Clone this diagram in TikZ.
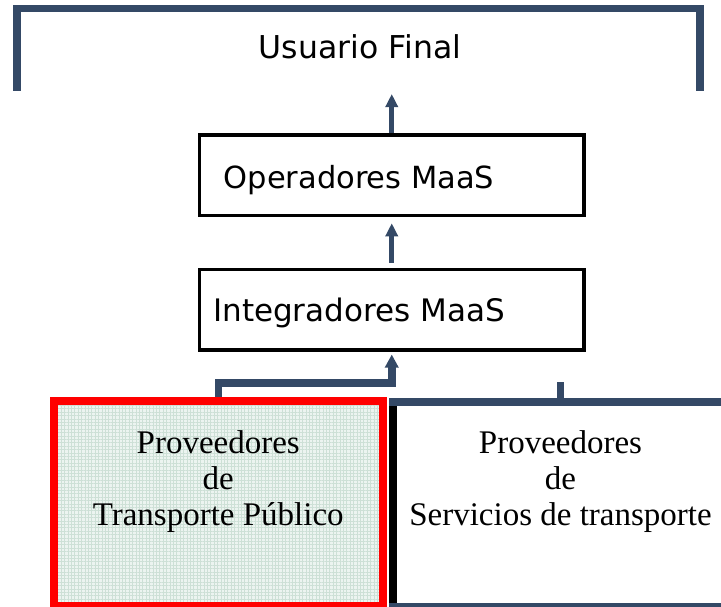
\documentclass[tikz,border=0pt]{standalone}
\usepackage{fontspec}
\setmainfont{Liberation Serif}
\newfontfamily\verd{DejaVu Sans}
\usetikzlibrary{arrows.meta,patterns.meta}
\definecolor{navy}{RGB}{52,73,102}
\definecolor{mint}{RGB}{236,244,240}
\definecolor{mintgrid}{RGB}{205,224,214}
\begin{document}
\begin{tikzpicture}[x=1pt,y=-1pt,
  sanslab/.style={font=\verd\fontsize{30.5}{36}\selectfont, inner sep=0pt},
  seriflab/.style={font=\fontsize{33}{36}\selectfont, align=center, inner sep=0pt},
  box/.style={draw=black, line width=3.5pt, minimum width=384.5pt, minimum height=80.5pt, inner sep=0pt},
  bracketline/.style={draw=navy, line width=7.8pt, line join=miter},
  conn/.style={draw=navy, line width=5pt, -{Triangle[length=13pt,width=12pt]}},
  elbowline/.style={draw=navy, line width=7.5pt, line join=miter},
  tpbox/.style={draw=red, line width=8pt, minimum width=329.5pt, minimum height=205pt, inner sep=0pt,
    preaction={fill=mint},
    preaction={pattern={Hatch[distance=3.4pt, angle=0, line width=0.7pt]}, pattern color=mintgrid}},
  spbox/.style={minimum width=335pt, minimum height=205pt, inner sep=0pt, outer sep=0pt},
  edge8/.style={line width=8pt}
]
\useasboundingbox (0,0) rectangle (721,606);

% top bracket: Usuario Final
\node[sanslab, font=\verd\fontsize{31.5}{36}\selectfont, anchor=base] (uf) at (360,58) {Usuario Final};
\draw[bracketline] (16.8,90.7) -- (16.8,8.5) -- (700,8.5) -- (700,90.7);

% MaaS boxes
\node[box] (op) at (391.75,175.25) {};
\node[sanslab, anchor=base west] (opt) at (223.5,188) {Operadores MaaS};
\node[box] (ig) at (391.75,309.5) {};
\node[sanslab, font=\verd\fontsize{31}{36}\selectfont, anchor=base west] (igt) at (213,321.7) {Integradores MaaS};

\coordinate (uftip) at (391.75,94);
\draw[conn] (op.north) -- (uftip);
\draw[conn, shorten <=5pt, shorten >=6pt] (ig.north) -- (op.south);

% providers
\node[tpbox] (tp) at (218.25,503.5) {};
\node[seriflab] (tpt) at (218.25,481.3) {Proveedores\\de\\Transporte Público};

\node[spbox] (sp) at (560.5,504.5) {};
\coordinate (stub) at (560.5,382);
\draw[elbowline] (sp.north) -- (stub);
\draw[edge8, draw=black] (sp.north west) -- (sp.south west);
\draw[edge8, draw=navy] ([xshift=-4pt]sp.north west) -- (sp.north east);
\draw[edge8, draw=navy] ([xshift=-4pt]sp.south west) -- (sp.south east);
\node[seriflab] (spt) at (560.5,481.3) {Proveedores\\de\\Servicios de transporte};

% elbow connector to Integradores
\coordinate (j) at (218.25,383);
\draw[elbowline, -{Triangle[length=13pt,width=13pt]}, shorten >=3pt] (tp.north) -- (j) -| (ig.south);
\end{tikzpicture}
\end{document}
